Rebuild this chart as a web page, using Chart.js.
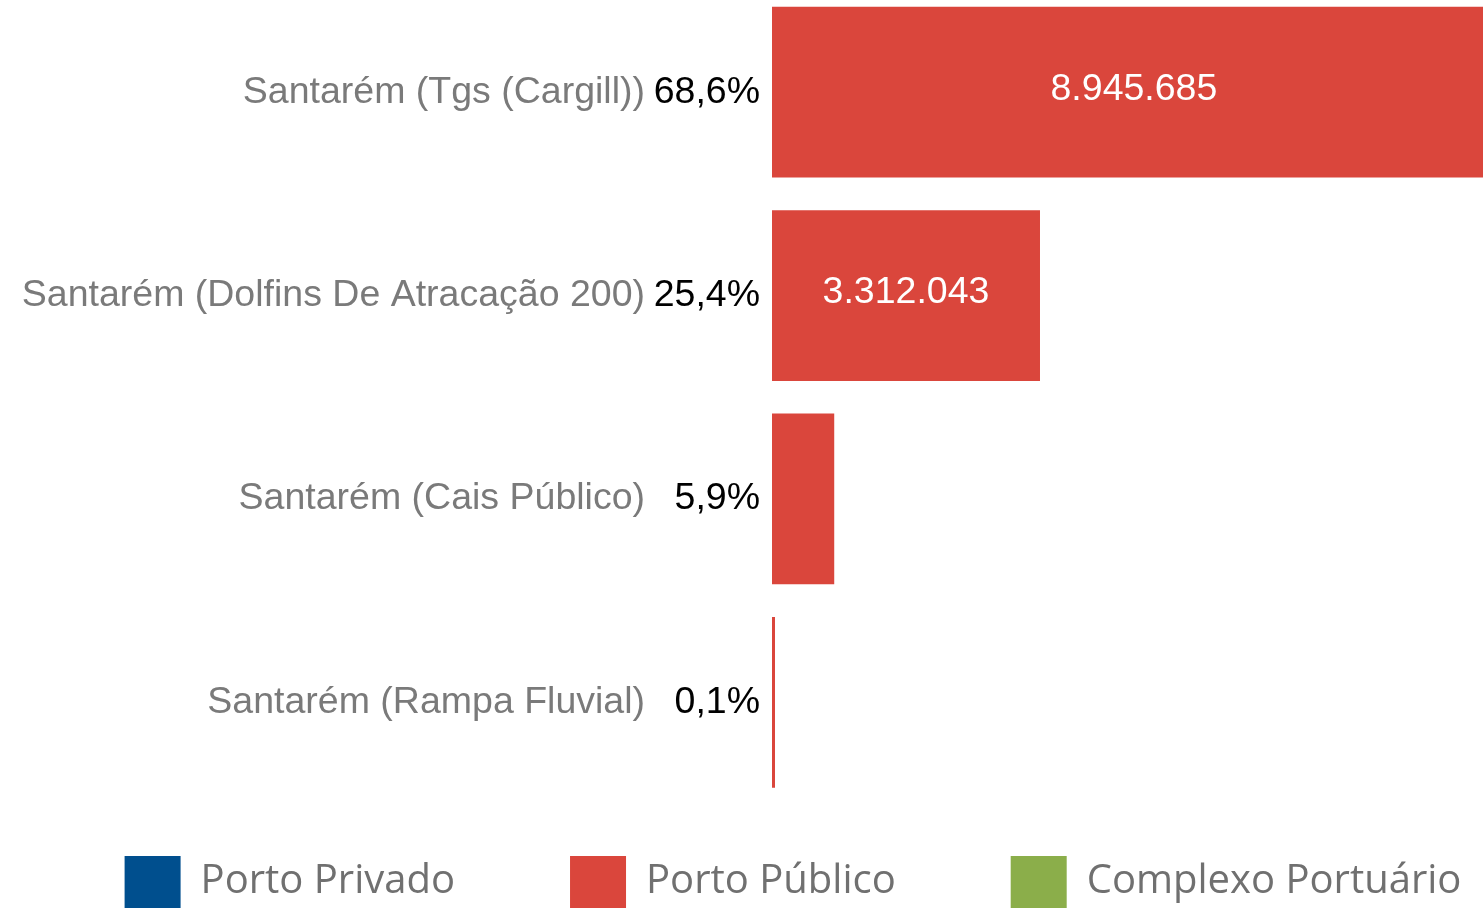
<!DOCTYPE html>
<html>
<head>
<meta charset="utf-8">
<script src="https://cdn.jsdelivr.net/npm/chart.js@4/dist/chart.umd.min.js"></script>
<style>
  html, body { margin: 0; padding: 0; overflow: hidden; background: #fff; }
  #myCanvas { position: absolute; left: 0; top: -44px; }
</style>
</head>
<body>
<canvas id="myCanvas" width="1586" height="1025"></canvas>
<script>
'use strict';

// data
const categories = [
  'Santarém (Tgs (Cargill))',
  'Santarém (Dolfins De Atracação 200)',
  'Santarém (Cais Público)',
  'Santarém (Rampa Fluvial)'
];
const shares = ['68,6%', '25,4%', '5,9%', '0,1%'];
const publicValues = [8945685, 3312043, 769000, 13000];
const privateValues = [];
const complexValues = [];
const xMax = 10060000;

const labelFont = { family: '"Liberation Sans", Arial, sans-serif', size: 37.5 };

function formatNumber(v) {
  return String(v).replace(/\B(?=(\d{3})+(?!\d))/g, '.');
}

// white totals inside the bars that are wide enough
const valueLabels = {
  id: 'valueLabels',
  afterDatasetsDraw(chart) {
    const ctx = chart.ctx;
    const meta = chart.getDatasetMeta(1);
    ctx.save();
    ctx.font = labelFont.size + 'px ' + labelFont.family;
    ctx.fillStyle = '#ffffff';
    ctx.textAlign = 'center';
    ctx.textBaseline = 'middle';
    meta.data.forEach((bar, i) => {
      const text = formatNumber(publicValues[i]);
      const w = ctx.measureText(text).width;
      if (bar.x - bar.base > w + 40) {
        ctx.fillText(text, (bar.x + bar.base) / 2, bar.y - 3);
      }
    });
    ctx.restore();
  }
};

// legend sits closer to the bars than its padding would put it
const legendShift = {
  id: 'legendShift',
  afterLayout(chart) {
    chart.legend.top -= 63;
    chart.legend.bottom -= 63;
  }
};

const data = {
  labels: categories,
  datasets: [{
    label: 'Porto Privado',
    data: privateValues,
    backgroundColor: '#004f8e'
  },
  {
    label: 'Porto Público',
    data: publicValues,
    backgroundColor: '#da463c',
    minBarLength: 3
  },
  {
    label: 'Complexo Portuário',
    data: complexValues,
    backgroundColor: '#8bae4a'
  }]
};

const config = {
  type: 'bar',
  data: data,
  options: {
    indexAxis: 'y',
    responsive: false,
    animation: false,
    layout: { padding: 0 },
    datasets: {
      bar: {
        grouped: false,
        barPercentage: 0.84,
        categoryPercentage: 1.0,
        borderWidth: 0
      }
    },
    scales: {
      x: {
        display: false,
        min: 0,
        max: xMax
      },
      y: {
        position: 'left',
        weight: 0,
        grid: { display: false, drawTicks: false },
        border: { display: false },
        ticks: {
          color: '#000000',
          font: labelFont,
          padding: 12,
          callback: (value, index) => shares[index]
        },
        afterFit(scale) { scale.width = 117; }
      },
      names: {
        type: 'category',
        labels: categories,
        position: 'left',
        axis: 'y',
        offset: true,
        weight: 1,
        grid: { display: false, drawTicks: false },
        border: { display: false },
        ticks: {
          color: '#7a7a7a',
          font: labelFont,
          padding: 10
        },
        afterFit(scale) { scale.width = 655; }
      }
    },
    plugins: {
      tooltip: { enabled: false },
      legend: {
        position: 'bottom',
        labels: {
          boxWidth: 56,
          boxHeight: 52,
          padding: 115,
          color: '#707070',
          font: { family: '"Open Sans", sans-serif', size: 40 }
        }
      }
    }
  },
  plugins: [valueLabels, legendShift]
};

const myChart = new Chart(document.getElementById('myCanvas'), config);
</script>
</body>
</html>
